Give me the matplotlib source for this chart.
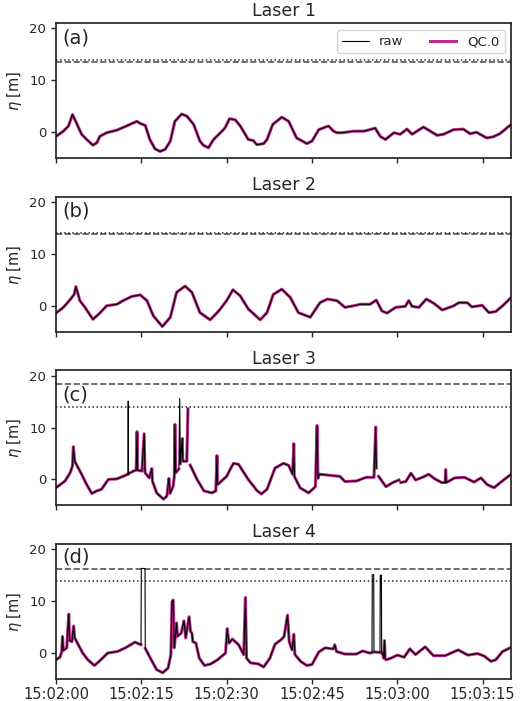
import numpy as np
import matplotlib
matplotlib.use("Agg")
import matplotlib.pyplot as plt
import matplotlib.dates as mdates

# %% data (seconds after 15:02:00, surface elevation in m)
t_l1 = [0, 1.3, 2.2, 2.9, 3.6, 4.5, 5.4, 6.5, 7.2, 7.7, 8.9, 10.7, 12.4, 14.2, 14.8, 15.7,
        16.5, 17.4, 18.3, 19.2, 20.1, 20.9, 22.1, 23.0, 24.2, 25.3, 25.9, 26.8, 27.7, 28.9,
        29.7, 30.5, 31.5, 32.4, 33.8, 34.7, 35.3, 36.5, 37.1, 38.1, 39.7, 40.9, 42.3, 44.1,
        45.0, 46.2, 47.9, 48.8, 49.4, 50.3, 52.3, 54.1, 55.2, 56.1, 57.0, 57.9, 59.4, 60.5,
        61.7, 62.6, 64.6, 67.0, 68.1, 69.9, 71.6, 72.8, 73.9, 75.7, 76.8, 78.0, 80.0]
eta_l1 = [-0.8, 0.2, 1.2, 3.4, 1.8, -0.4, -1.4, -2.5, -2.0, -0.8, -0.1, 0.4, 1.2, 2.1, 1.7, 1.3,
          -1.4, -3.2, -3.7, -3.3, -1.7, 2.1, 3.5, 3.1, 1.5, -1.7, -2.5, -3.0, -1.4, -0.1,
          0.8, 2.6, 2.4, 1.2, -1.4, -1.6, -2.4, -2.2, -1.4, 1.5, 2.9, 2.1, -1.1, -2.2,
          -1.7, 0.5, 1.2, 0.2, -0.1, -0.1, 0.2, 0.2, 0.5, 0.8, -0.8, -1.4, -0.1, -0.4,
          0.6, -0.4, 1.0, -0.6, -0.4, 0.5, 0.6, -0.3, 0.0, -1.1, -0.9, -0.3, 1.5]

t_l2 = [0, 1.3, 2.5, 3.2, 3.5, 4.2, 5.1, 6.5, 7.7, 8.9, 10.7, 11.8, 13.3, 14.8, 16.0, 17.1,
        18.7, 20.1, 21.2, 22.7, 23.9, 25.3, 27.1, 28.6, 30.0, 31.1, 32.4, 33.8, 35.9, 37.1,
        38.2, 39.7, 41.2, 42.6, 44.7, 46.4, 47.7, 49.4, 50.8, 52.3, 53.5, 55.2, 56.3, 57.3,
        58.2, 59.7, 61.4, 62.0, 62.6, 63.8, 65.1, 66.4, 67.9, 69.9, 70.8, 72.3, 73.1, 74.9,
        76.1, 77.3, 78.5, 80.0]
eta_l2 = [-1.4, -0.3, 1.2, 2.2, 3.7, 1.0, -0.3, -2.6, -1.4, 0.0, 0.3, 1.0, 1.8, 2.1, 1.0, -1.9,
          -4.0, -2.2, 2.6, 3.8, 2.6, -1.3, -2.7, -1.0, 1.0, 3.1, 1.9, -0.6, -2.7, -1.3,
          2.2, 3.2, 1.6, -1.3, -2.2, 0.6, 1.3, 1.0, -0.3, 0.0, 0.3, 0.3, 1.1, -1.0,
          -1.4, -0.3, -0.1, 1.0, -0.1, -0.3, 1.3, 0.5, -0.8, 0.0, 0.6, 0.6, -0.2, 0.1,
          -1.3, -1.1, 0.0, 1.6]

t_l3 = [0, 1.6, 2.5, 2.9, 3.05, 3.3, 4.5, 5.4, 6.3, 7.2, 8.0, 9.2, 10.7, 11.8, 12.65, 12.7,
        12.75, 13.6, 14.1, 14.25, 14.35, 15.1, 15.5, 15.65, 16.4, 16.85, 16.95, 17.7, 18.9,
        19.5, 19.85, 20.05, 20.6, 20.8, 20.9, 21.05, 21.6, 21.75, 21.85, 22.2, 22.3, 23.0,
        23.2, 23.35, 23.6, 24.8, 26.0, 27.4, 28.1, 28.3, 28.4, 30.0, 30.6, 31.2, 32.1, 33.8,
        35.3, 36.1, 37.1, 38.5, 40.0, 40.9, 41.6, 41.8, 41.9, 42.9, 44.4, 45.6, 45.9, 46.05,
        46.3, 49.9, 50.8, 52.8, 54.5, 55.9, 56.2, 56.3, 56.45, 56.7, 58.0, 59.2, 60.3, 60.45,
        60.6, 61.5, 62.4, 63.2, 64.4, 65.5, 66.6, 67.8, 68.4, 68.5, 68.6, 70.1, 71.8, 73.5,
        74.7, 75.8, 77.0, 78.1, 80.0]
eta_l3 = [-1.6, -0.3, 1.3, 2.6, 6.3, 3.5, 1.0, -1.0, -2.7, -2.2, -1.9, 0.0, 0.1, 0.6, 1.0, 15.1,
          1.1, 1.6, 1.8, 9.2, 1.8, 1.6, 8.8, 1.3, 0.3, 2.1, -0.3, -2.6, -3.8,
          -3.2, 0.2, -2.7, -1.3, 0.6, 10.6, 1.3, 2.0, 15.6, 3.0, 7.9, 3.5, 3.5,
          13.6, np.nan, 2.75, 0.0, -2.2, -2.6, -2.2, 4.6, -1.0, 0.6, 1.9, 3.1, 2.9, 0.0,
          -2.1, -2.8, -1.9, 2.2, 3.1, 2.7, 1.0, 6.9, 0.6, -1.6, -2.6, -1.4, 10.4, 0.2,
          1.0, 0.6, -0.4, -0.3, 0.4, 0.4, 10.1, 2.2, np.nan, 0.6, -1.4, -0.6, -0.1, np.nan,
          -0.6, -0.4, 1.2, -0.1, 0.4, 1.0, 0.1, -0.6, -0.6, 1.9, -0.6, 0.3, 0.4, -0.5,
          0.3, -1.0, -1.6, -0.6, 1.0]

t_l4 = [0, 0.7, 1.0, 1.15, 1.3, 1.9, 2.25, 2.4, 2.8, 3.1, 3.3, 4.7, 5.6, 6.75, 7.6, 9.1,
        10.8, 12.2, 13.9, 14.5, 14.95, 15.0, 15.65, 15.7, 16.6, 17.7, 18.75, 19.7, 20.2,
        20.4, 20.6, 20.8, 21.2, 21.35, 21.75, 22.0, 22.5, 22.8, 23.4, 23.65, 23.9, 24.05,
        24.6, 25.2, 26.1, 27.2, 28.4, 29.8, 30.1, 30.4, 31.0, 32.1, 33.0, 33.3, 33.5, 34.2,
        35.6, 36.5, 37.6, 38.5, 39.6, 40.1, 40.7, 41.0, 41.5, 41.8, 42.0, 43.0, 44.1, 45.0,
        46.2, 47.3, 48.75, 49.0, 49.3, 50.8, 52.8, 53.9, 55.1, 55.55, 55.6, 55.85, 55.9,
        56.25, 56.95, 57.0, 57.2, 57.25, 57.4, 57.6, 57.75, 57.85, 58.0, 58.85, 60.0, 61.2,
        62.2, 63.2, 64.9, 66.35, 68.4, 70.7, 72.4, 74.1, 75.3, 76.45, 77.3, 78.5, 80.0]
eta_l4 = [-1.3, -0.8, 0.2, 3.2, 0.5, 1.0, 7.5, 2.4, 2.2, 5.2, 2.9, 0.0, -1.3, -2.4, -1.6, 0.0,
          0.3, 1.0, 2.1, 1.8, 1.6, 16.3, 16.3, 0.9, -1.0, -3.2, -3.8, -2.9, -0.3,
          9.9, 10.2, 1.0, 5.8, 3.2, 3.6, 3.8, 6.2, 2.9, 7.0, 4.2, 3.8, 2.2,
          1.9, -1.0, -2.4, -2.1, -1.3, 0.0, 4.7, 1.9, 2.7, 1.6, -0.3, 10.7, -1.0, -1.9,
          -2.1, -2.7, -1.0, 1.7, 2.6, 3.2, 7.3, 2.2, 0.6, 3.6, -0.3, -1.6, -2.4, -2.2,
          0.2, 1.0, 0.8, 1.6, 0.3, -0.2, -0.2, 0.4, 0.0, 0.1, 15.1, 15.1, 0.2,
          0.2, 0.1, 15.0, 15.0, 0.0, 0.0, -1.0, 2.4, -1.0, -1.3, -1.0, -0.4, -0.8,
          0.8, -0.3, 1.2, -0.5, -0.5, 0.6, -0.4, -0.1, -0.6, -1.6, -1.3, 0.3, 1.1]

titles = ["Laser 1", "Laser 2", "Laser 3", "Laser 4"]
letters = ["(a)", "(b)", "(c)", "(d)"]
letter_y = [18.2, 18.2, 16.3, 18.6]
upper_lim = [13.6, 13.8, 18.3, 16.2]   # dashed
lower_lim = [13.9, 14.0, 13.9, 13.9]   # dotted

series = [(t_l1, eta_l1), (t_l2, eta_l2), (t_l3, eta_l3), (t_l4, eta_l4)]

# %% style
txt = "#262626"
plt.rcParams["font.family"] = ["DejaVu Sans"]
plt.rcParams["text.color"] = txt
plt.rcParams["axes.labelcolor"] = txt
plt.rcParams["axes.edgecolor"] = txt
plt.rcParams["axes.linewidth"] = 1.25
plt.rcParams["xtick.color"] = txt
plt.rcParams["ytick.color"] = txt

qc_color = "#c0298f"
start = np.datetime64("2000-01-01T15:02:00")


def to_time(t):
    return start + (np.asarray(t) * 1000).astype("timedelta64[ms]")


fig, axes = plt.subplots(4, 1, figsize=(5.28, 7.01), dpi=100, sharex=True)
fig.subplots_adjust(left=0.106, right=0.968, top=0.9668, bottom=0.0314, hspace=0.287)

for i, ax in enumerate(axes):
    t, eta = series[i]
    eta = np.array(eta, dtype=float)
    qc = eta.copy()
    qc[eta > lower_lim[i]] = np.nan
    tt = to_time(t)
    ax.plot(tt, eta, color="black", lw=0.8, label="raw", zorder=3)
    ax.plot(tt, qc, color=qc_color, lw=2.2, label="QC.0", zorder=2)
    ax.axhline(upper_lim[i], color="#555555", ls="--", lw=1.2)
    ax.axhline(lower_lim[i], color="#262626", ls=":", lw=1.1)
    ax.set_ylim(-5, 21)
    ax.set_yticks([0, 10, 20])
    ax.set_xlim(start, start + np.timedelta64(80, "s"))
    ax.set_ylabel(r"$\eta$ [m]", fontsize=10.5)
    ax.set_title(titles[i], fontsize=12.5, pad=5)
    ax.text(0.014, letter_y[i], letters[i], transform=ax.get_yaxis_transform(),
            fontsize=14, va="center", ha="left")
    ax.tick_params(axis="y", labelsize=9.5, length=3.5, width=1)
    ax.tick_params(axis="x", labelsize=10.5, length=3.5, width=1, pad=2)
    if i == 0:
        ax.legend(loc="upper right", ncol=2, fontsize=9.5)

axes[-1].xaxis.set_major_locator(mdates.SecondLocator(bysecond=[0, 15, 30, 45]))
axes[-1].xaxis.set_major_formatter(mdates.DateFormatter("%H:%M:%S"))

fig.savefig("out.png", dpi=100)
